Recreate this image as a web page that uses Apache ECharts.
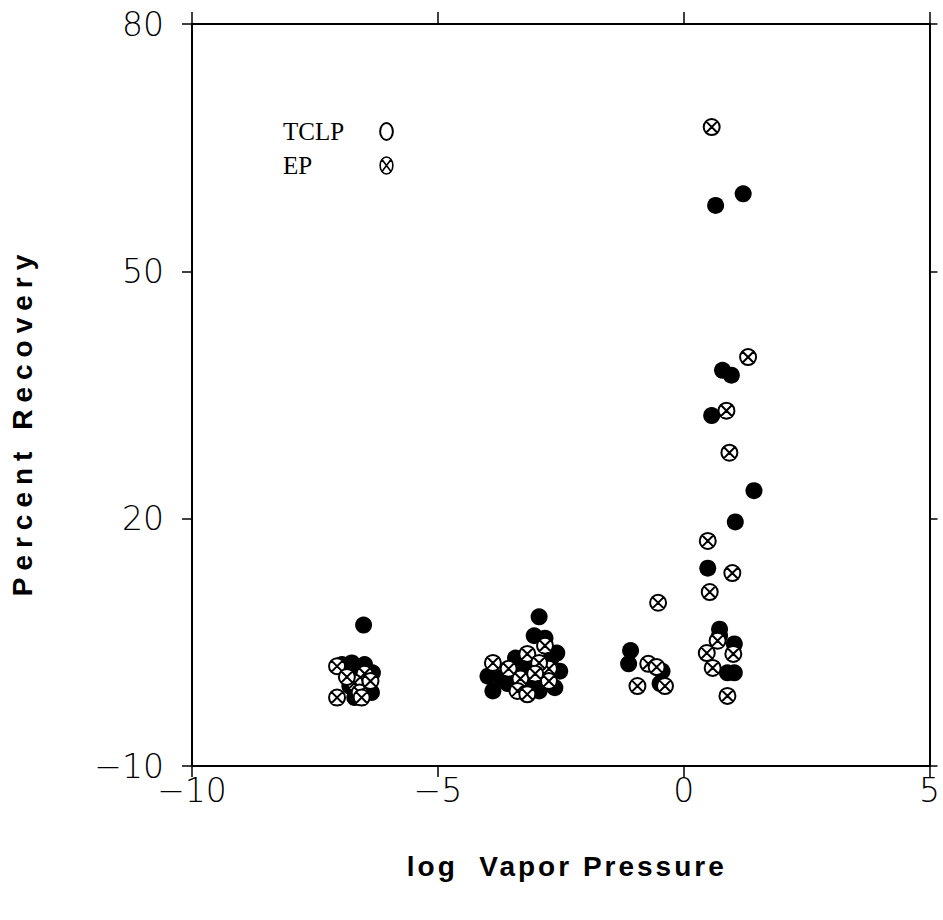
<!DOCTYPE html>
<html>
<head>
<meta charset="utf-8">
<script src="https://cdn.jsdelivr.net/npm/echarts@6/dist/echarts.min.js"></script>
<style>
  html, body { margin: 0; padding: 0; background: #fff; }
  #chart { width: 943px; height: 920px; }
  /* tracking for the axis titles (SVG renderer writes the font into the style attribute) */
  #chart text[style*="Arial"] { letter-spacing: 7px; }
  #chart text[style*="Helvetica"] { letter-spacing: 3px; }
</style>
</head>
<body>
<div id="chart"></div>
<script>
// Percent recovery against log vapour pressure, TCLP and EP extractions
const tclpLogVP = [
  -6.51, -6.95, -6.75, -6.49, -6.33, -6.35, -6.69, -6.79, -6.43, -6.60,
  -2.94, -3.04, -2.82, -2.58, -3.42, -3.98, -3.88, -3.72, -3.58, -2.52, -2.62, -2.94, -3.08, -3.22, -2.70,
  -1.08, -1.12, -0.44, -0.48,
  0.65, 1.21, 0.79, 0.97, 0.57, 1.43, 1.05, 0.49, 0.73, 0.73, 1.03, 0.89, 1.03
];
const tclpRecovery = [
  7.1, 2.3, 2.5, 2.3, 1.3, -1.1, -1.7, -0.3, -0.3, 0.8,
  8.1, 5.8, 5.5, 3.7, 3.1, 0.9, -0.9, 0.7, 0.0, 1.5, -0.5, -0.9, 0.0, 1.8, 3.0,
  4.0, 2.4, 1.5, 0.0,
  58.0, 59.4, 38.0, 37.4, 32.5, 23.4, 19.6, 14.0, 6.6, 5.8, 4.8, 1.3, 1.3
];
const epLogVP = [
  -7.05, -7.05, -6.49, -6.69, -6.59, -6.85, -6.37, -6.55,
  -2.82, -3.18, -3.88, -3.56, -3.32, -3.38, -3.18, -2.74, -2.94, -2.74, -3.02,
  -0.52, -0.72, -0.55, -0.94, -0.38,
  0.57, 1.31, 0.87, 0.93, 0.49, 0.99, 0.53, 0.69, 1.01, 0.47, 0.59, 0.89
];
const epRecovery = [
  2.1, -1.7, 1.2, 0.1, -1.1, 0.8, 0.3, -1.7,
  4.6, 3.6, 2.5, 1.8, 0.6, -0.9, -1.3, 1.8, 2.5, 0.3, 1.2,
  9.8, 2.4, 2.0, -0.3, -0.3,
  67.5, 39.6, 33.1, 28.0, 17.3, 13.4, 11.1, 5.2, 3.6, 3.7, 1.9, -1.5
];
const xTicks = [-10, -5, 0, 5];
const yTicks = [-10, 20, 50, 80];
const seriesNames = ['TCLP', 'EP'];
const xTitle = 'log  Vapor Pressure';
const yTitle = 'Percent Recovery';

const pairs = (xs, ys) => xs.map((x, i) => [x, ys[i]]);

// circle with an X through it
const crossedCircle = 'path://M10 0A10 10 0 1 1 10 20A10 10 0 1 1 10 0ZM2.93 2.93L17.07 17.07M17.07 2.93L2.93 17.07';
const legendOval = 'path://M6 0A6 8 0 1 1 6 16A6 8 0 1 1 6 0Z';
const legendCrossedOval = 'path://M6 0A6 8 0 1 1 6 16A6 8 0 1 1 6 0ZM1.76 2.34L10.24 13.66M10.24 2.34L1.76 13.66';

const tickFont = { fontFamily: 'DejaVu Sans', fontWeight: 200, fontSize: 33, color: '#000' };
const frameLine = { show: true, onZero: false, lineStyle: { color: '#000', width: 2 } };
const legendFont = "'Liberation Serif', 'Times New Roman', serif";

const chart = echarts.init(document.getElementById('chart'), null, { renderer: 'svg' });
chart.setOption({
  animation: false,
  backgroundColor: '#fff',
  grid: { left: 190, right: 7, top: 24, bottom: 154 },
  legend: {
    orient: 'vertical',
    left: 278,
    top: 114,
    align: 'right',
    itemWidth: 13,
    itemHeight: 17,
    itemGap: 9,
    selectedMode: false,
    // fixed-width, left-aligned name box keeps the symbols in one column
    formatter: name => '{n|' + name + '}',
    textStyle: {
      fontFamily: legendFont, fontSize: 25, color: '#000',
      rich: { n: { width: 92, align: 'left', lineHeight: 22, fontFamily: legendFont, fontSize: 25, color: '#000' } }
    },
    data: [
      { name: seriesNames[0], icon: legendOval, itemStyle: { color: '#fff', borderColor: '#000', borderWidth: 2 } },
      { name: seriesNames[1], icon: legendCrossedOval, itemStyle: { color: '#fff', borderColor: '#000', borderWidth: 1.6 } }
    ]
  },
  xAxis: [
    {
      type: 'value', position: 'bottom', min: -10, max: 5, interval: 5,
      axisLine: frameLine,
      splitLine: { show: false },
      axisTick: { show: true, inside: false, length: 11, customValues: xTicks, lineStyle: { color: '#000', width: 1.5 } },
      axisLabel: { show: true, margin: 8, customValues: xTicks, formatter: v => String(v).replace('-', '\u2212'), ...tickFont },
      name: xTitle,
      nameLocation: 'middle',
      nameGap: 86,
      nameTextStyle: { fontFamily: "'Liberation Sans', Helvetica", fontWeight: 'bold', fontSize: 28, color: '#000', padding: [0, 0, 0, 12] }
    },
    {
      type: 'value', position: 'top', min: -10, max: 5, interval: 5,
      axisLine: frameLine,
      splitLine: { show: false },
      axisTick: { show: true, inside: false, length: 12, customValues: xTicks, lineStyle: { color: '#000', width: 1.5 } },
      axisLabel: { show: false }
    }
  ],
  yAxis: [
    {
      type: 'value', position: 'left', min: -10, max: 80, interval: 30,
      axisLine: frameLine,
      splitLine: { show: false },
      axisTick: { show: true, inside: false, length: 10, customValues: yTicks, lineStyle: { color: '#000', width: 1.5 } },
      axisLabel: { show: true, margin: 28, customValues: yTicks, formatter: v => String(v).replace('-', '\u2212'), ...tickFont },
      name: yTitle,
      nameLocation: 'middle',
      nameGap: 156,
      nameRotate: 90,
      nameTextStyle: { fontFamily: "'Liberation Sans', Arial", fontWeight: 'bold', fontSize: 28, color: '#000', padding: [0, 54, 0, 0] }
    },
    {
      type: 'value', position: 'right', min: -10, max: 80, interval: 30,
      axisLine: frameLine,
      splitLine: { show: false },
      axisTick: { show: true, inside: false, length: 8, customValues: yTicks, lineStyle: { color: '#000', width: 1.5 } },
      axisLabel: { show: false }
    }
  ],
  series: [
    {
      name: seriesNames[0],
      type: 'scatter',
      xAxisIndex: 0, yAxisIndex: 0,
      data: pairs(tclpLogVP, tclpRecovery),
      symbol: 'circle',
      symbolSize: 17,
      itemStyle: { color: '#000', opacity: 1 },
      emphasis: { disabled: true },
      silent: true,
      z: 2
    },
    {
      name: seriesNames[1],
      type: 'scatter',
      xAxisIndex: 0, yAxisIndex: 0,
      data: pairs(epLogVP, epRecovery),
      symbol: crossedCircle,
      symbolSize: 16,
      itemStyle: { color: '#fff', borderColor: '#000', borderWidth: 2, opacity: 1 },
      emphasis: { disabled: true },
      silent: true,
      z: 3
    }
  ]
});
</script>
</body>
</html>
